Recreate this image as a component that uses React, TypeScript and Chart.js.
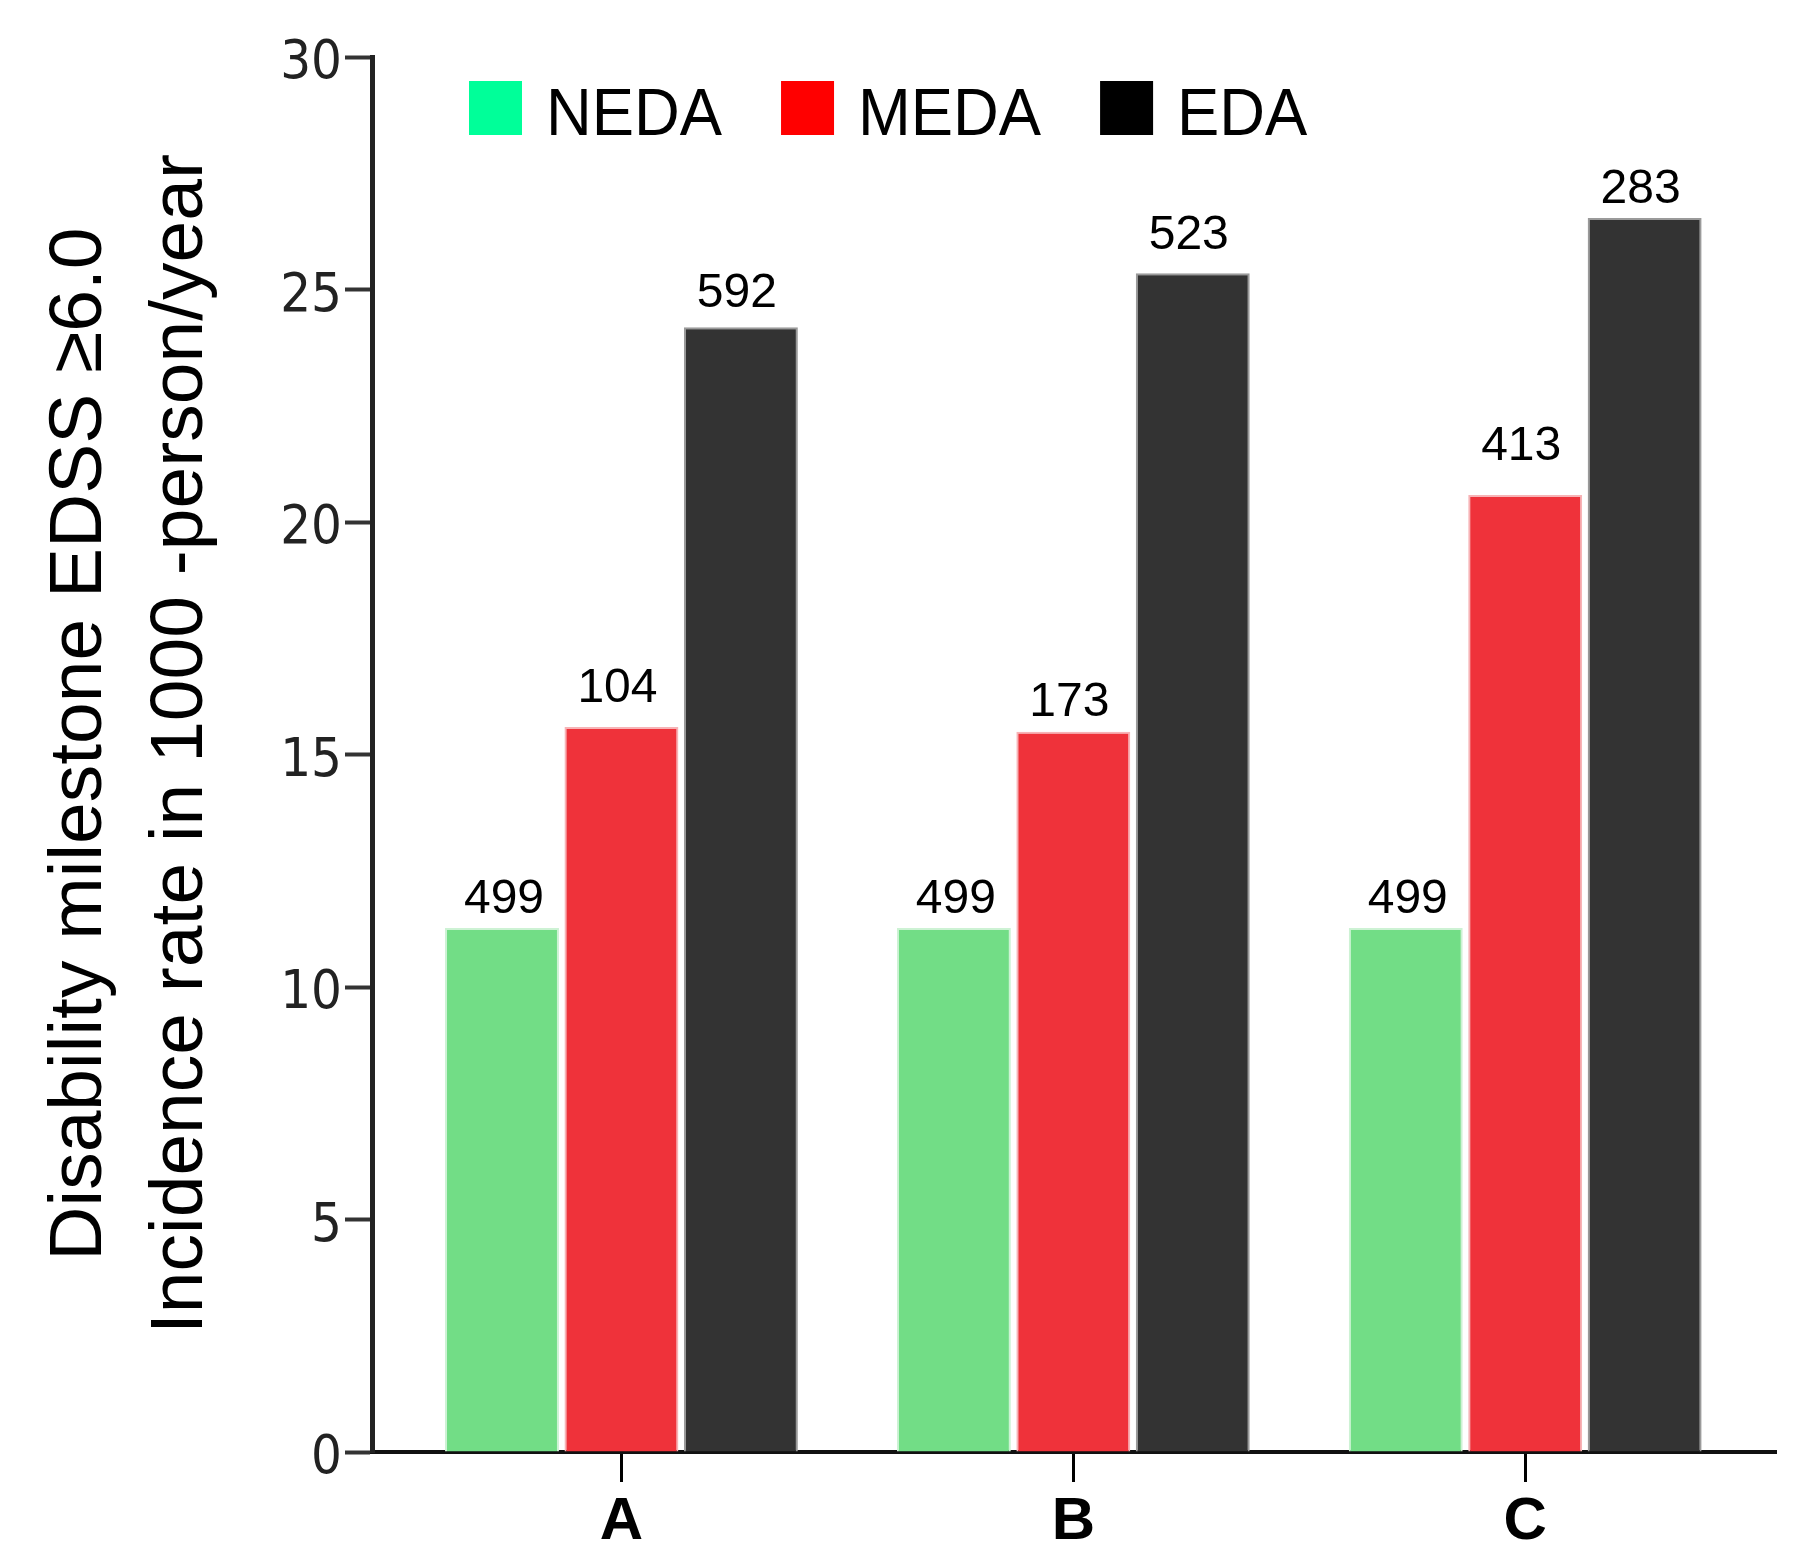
import React, { useEffect, useRef } from "react";
import { Chart, registerables } from "chart.js";

Chart.register(...registerables);

const categories = ["A", "B", "C"];
const seriesNames = ["NEDA", "MEDA", "EDA"];
const nedaValues = [11.27, 11.27, 11.27];
const medaValues = [15.59, 15.49, 20.58];
const edaValues = [24.19, 25.35, 26.54];
const nedaCounts = [499, 499, 499];
const medaCounts = [104, 173, 413];
const edaCounts = [592, 523, 283];
const yTicks = [0, 5, 10, 15, 20, 25, 30];
const yTitleLines = [" Disability milestone EDSS \u22656.0", " Incidence rate in 1000 -person/year"];

// styling: colours and extra lift (px) of each count label above its bar
const barColors = ["#72DD86", "#EF323A", "#333333"];
const barEdgeColors = ["#cdf2d4", "#f7b3b6", "#9a9a9a"];
const legendColors = ["#00FF99", "#FF0000", "#000000"];
const nedaLabelLift = [0, 0, 0];
const medaLabelLift = [10, 1, 20];
const edaLabelLift = [5, 9, 0];

const seriesValues = [nedaValues, medaValues, edaValues];
const seriesCounts = [nedaCounts, medaCounts, edaCounts];
const labelLifts = [nedaLabelLift, medaLabelLift, edaLabelLift];

const countLabelsPlugin = {
  id: "countLabels",
  afterDatasetsDraw(chart: any) {
    const ctx = chart.ctx;
    ctx.save();
    ctx.font = "48px 'Liberation Sans', Arial, sans-serif";
    ctx.fillStyle = "#000";
    ctx.textAlign = "center";
    ctx.textBaseline = "alphabetic";
    chart.data.datasets.forEach((_ds: any, d: number) => {
      const meta = chart.getDatasetMeta(d);
      meta.data.forEach((bar: any, i: number) => {
        const dx = d === 0 ? 2 : -4;
        ctx.fillText(String(seriesCounts[d][i]), bar.x + dx, bar.y - 15 - labelLifts[d][i]);
      });
    });
    ctx.restore();
  },
};

const insideLegendPlugin = {
  id: "insideLegend",
  afterDraw(chart: any) {
    const ctx = chart.ctx;
    const area = chart.chartArea;
    const boxW = 53;
    const boxH = 54;
    const textGap = 24;
    const itemGap = 59;
    const sx = 0.96;
    let x = area.left + 97;
    const top = area.top + 24;
    ctx.save();
    ctx.font = "66px 'Liberation Sans', Arial, sans-serif";
    ctx.textBaseline = "alphabetic";
    ctx.textAlign = "left";
    chart.data.datasets.forEach((ds: any, d: number) => {
      ctx.fillStyle = legendColors[d];
      ctx.fillRect(x, top, boxW, boxH);
      const tx = x + boxW + textGap;
      const w = ctx.measureText(ds.label).width * sx;
      ctx.save();
      ctx.translate(tx, top + boxH);
      ctx.scale(sx, 1);
      ctx.fillStyle = "#000";
      ctx.fillText(ds.label, 0, 0);
      ctx.restore();
      x = tx + w + itemGap;
    });
    ctx.restore();
  },
};

export default function App() {
  const ref = useRef<HTMLCanvasElement | null>(null);

  useEffect(() => {
    if (!ref.current) return;
    const chart = new Chart(ref.current, {
      type: "bar",
      data: {
        datasets: seriesNames.map((name, d) => ({
          label: name,
          data: categories.map((_c, i) => ({ x: i, y: seriesValues[d][i] })),
          backgroundColor: barColors[d],
          borderColor: barEdgeColors[d],
          borderWidth: 2,
          borderSkipped: "bottom",
          categoryPercentage: 0.793,
          barPercentage: 0.954,
        })),
      },
      options: {
        responsive: false,
        animation: false,
        layout: { padding: { left: 0, right: 25, top: 57, bottom: 0 } },
        plugins: {
          legend: { display: false },
          tooltip: { enabled: false },
        },
        scales: {
          x: {
            type: "linear",
            min: -0.552,
            max: 2.555,
            offset: false,
            afterBuildTicks: (scale: any) => {
              scale.ticks = categories.map((_c, i) => ({ value: i }));
            },
            afterFit: (scale: any) => {
              scale.height = 93;
            },
            grid: {
              display: true,
              offset: false,
              drawOnChartArea: false,
              drawTicks: true,
              tickLength: 30,
              tickWidth: 3,
              tickColor: "#000",
            },
            border: { display: true, width: 4, color: "#111" },
            ticks: {
              padding: 4,
              color: "#000",
              font: { family: "'Liberation Sans', Arial, sans-serif", size: 60, weight: "bold" },
              callback: (v: any) => categories[v as number] ?? "",
            },
          },
          y: {
            min: 0,
            max: 30,
            afterBuildTicks: (scale: any) => {
              scale.ticks = yTicks.map((v) => ({ value: v }));
            },
            afterFit: (scale: any) => {
              scale.width = 372;
            },
            grid: {
              display: true,
              drawOnChartArea: false,
              drawTicks: true,
              tickLength: 27,
              tickWidth: 4,
              tickColor: "#333",
            },
            border: { display: true, width: 5, color: "#222" },
            ticks: {
              padding: 3,
              labelOffset: 7,
              color: "#222",
              font: {
                family: "'Liberation Sans Narrow', 'DejaVu Sans Condensed', 'Liberation Sans', sans-serif",
                size: 54,
              },
            },
            title: {
              display: true,
              text: yTitleLines,
              color: "#000",
              font: { family: "'Liberation Sans', Arial, sans-serif", size: 75, lineHeight: 1.3467 },
              padding: { top: 30, bottom: 0 },
            },
          },
        },
      },
      plugins: [countLabelsPlugin, insideLegendPlugin],
    } as any);
    return () => chart.destroy();
  }, []);

  return (
    <div style={{ position: "absolute", left: 0, top: 0, width: 1801, height: 1545, background: "#fff" }}>
      <canvas ref={ref} width={1801} height={1545} />
    </div>
  );
}
